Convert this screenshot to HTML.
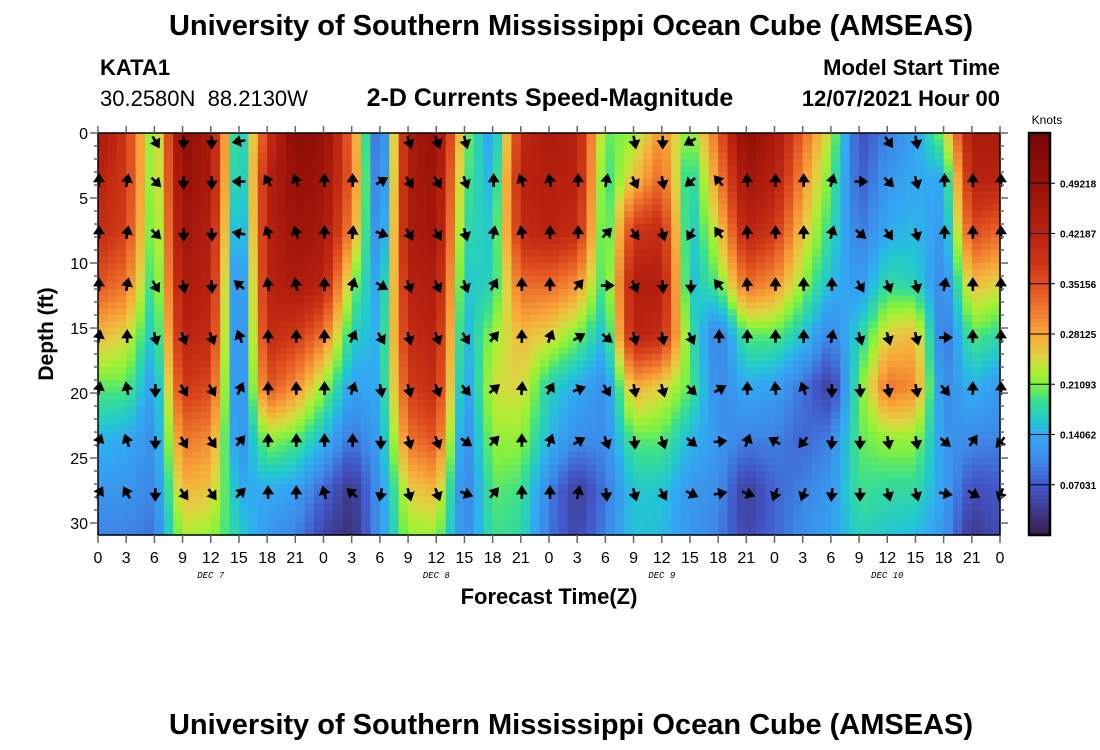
<!DOCTYPE html>
<html><head><meta charset="utf-8">
<style>
html,body{margin:0;padding:0;background:#fff;}
svg{display:block;font-family:"Liberation Sans",Arial,sans-serif;}
</style></head>
<body>
<svg id="chart" width="1100" height="750" viewBox="0 0 1100 750" xmlns="http://www.w3.org/2000/svg">
<text x="571" y="35" text-anchor="middle" font-weight="bold" font-size="29">University of Southern Mississippi Ocean Cube (AMSEAS)</text>
<text x="100" y="75" font-weight="bold" font-size="22">KATA1</text>
<text x="100" y="106" font-size="22">30.2580N&#160; 88.2130W</text>
<text x="550" y="106" text-anchor="middle" font-weight="bold" font-size="25">2-D Currents Speed-Magnitude</text>
<text x="1000" y="75" text-anchor="end" font-weight="bold" font-size="22">Model Start Time</text>
<text x="1000" y="106" text-anchor="end" font-weight="bold" font-size="22">12/07/2021 Hour 00</text>
<g id="cells"></g>
<g id="arrows"></g>
<rect x="98" y="133" width="902" height="402" fill="none" stroke="#000" stroke-width="1.5"/>
<g id="ticks"></g>
<text transform="translate(53,334) rotate(-90)" text-anchor="middle" font-weight="bold" font-size="21">Depth (ft)</text>
<text x="549" y="604" text-anchor="middle" font-weight="bold" font-size="22">Forecast Time(Z)</text>
<g id="colorbar"></g>
<text x="1047" y="124" text-anchor="middle" font-size="12">Knots</text>
<text x="571" y="734" text-anchor="middle" font-weight="bold" font-size="29">University of Southern Mississippi Ocean Cube (AMSEAS)</text>
</svg>
<script>
const hours = [0,3,6,9,12,15,18,21,24,27,30,33,36,39,42,45,48,51,54,57,60,63,66,69,72,75,78,81,84,87,90,93,96];
const depths = [0,3.5,7.5,11.5,15.5,19.5,23.5,27.5,31];
// speed (knots) per hour column, top to bottom depth
const speed = [
[0.45,0.42,0.40,0.35,0.27,0.20,0.15,0.12,0.10],
[0.38,0.38,0.37,0.32,0.25,0.20,0.14,0.12,0.10],
[0.19,0.19,0.18,0.17,0.15,0.12,0.11,0.10,0.09],
[0.52,0.50,0.48,0.45,0.42,0.38,0.32,0.27,0.23],
[0.45,0.45,0.43,0.42,0.40,0.36,0.30,0.26,0.22],
[0.13,0.12,0.10,0.07,0.07,0.08,0.10,0.14,0.17],
[0.38,0.42,0.42,0.42,0.40,0.35,0.22,0.14,0.12],
[0.52,0.50,0.48,0.45,0.38,0.30,0.20,0.13,0.10],
[0.50,0.48,0.46,0.42,0.32,0.22,0.15,0.08,0.05],
[0.32,0.33,0.30,0.22,0.17,0.13,0.09,0.03,0.02],
[0.05,0.06,0.08,0.12,0.14,0.14,0.13,0.12,0.12],
[0.45,0.45,0.45,0.42,0.40,0.37,0.32,0.25,0.22],
[0.50,0.48,0.47,0.44,0.42,0.40,0.35,0.27,0.22],
[0.22,0.20,0.18,0.16,0.14,0.12,0.10,0.09,0.10],
[0.12,0.14,0.16,0.17,0.22,0.24,0.22,0.20,0.19],
[0.40,0.42,0.40,0.33,0.27,0.25,0.22,0.19,0.18],
[0.45,0.43,0.42,0.33,0.25,0.17,0.15,0.10,0.09],
[0.42,0.42,0.40,0.30,0.21,0.14,0.11,0.04,0.05],
[0.20,0.18,0.17,0.18,0.15,0.11,0.11,0.09,0.10],
[0.22,0.26,0.38,0.43,0.42,0.28,0.20,0.16,0.16],
[0.30,0.33,0.40,0.43,0.40,0.25,0.20,0.16,0.15],
[0.20,0.16,0.15,0.15,0.19,0.20,0.15,0.12,0.12],
[0.33,0.30,0.25,0.20,0.09,0.10,0.12,0.11,0.10],
[0.52,0.47,0.42,0.33,0.20,0.14,0.10,0.04,0.05],
[0.45,0.43,0.38,0.30,0.20,0.13,0.10,0.08,0.08],
[0.33,0.30,0.26,0.22,0.16,0.09,0.08,0.10,0.11],
[0.23,0.20,0.18,0.15,0.10,0.04,0.10,0.12,0.13],
[0.06,0.07,0.09,0.12,0.17,0.20,0.20,0.19,0.17],
[0.10,0.12,0.14,0.18,0.25,0.32,0.22,0.18,0.16],
[0.13,0.14,0.15,0.17,0.27,0.30,0.22,0.18,0.15],
[0.22,0.14,0.12,0.10,0.08,0.10,0.12,0.13,0.12],
[0.45,0.42,0.36,0.27,0.20,0.15,0.11,0.06,0.03],
[0.45,0.42,0.33,0.25,0.18,0.12,0.10,0.07,0.06]
];
// arrow direction (deg clockwise from up) per arrow row (depths 0..27.5), per hour column; null = no arrow
const dirD0   = [null,null,150,180,180,260,null,null,null,null,null,160,160,165,null,null,null,null,null,170,180,240,null,null,null,null,null,null,145,170,null,null,null];
const dirD3   = [0,10,135,180,180,270,330,340,0,0,60,150,150,160,0,340,350,0,10,155,170,230,320,355,0,0,15,90,135,165,0,0,0];
const dirD7   = [0,10,135,180,180,280,340,345,0,5,110,150,150,165,10,350,0,0,45,145,165,210,325,355,0,0,15,130,145,165,0,0,0];
const dirD11  = [0,10,150,170,175,310,350,350,0,15,120,160,155,160,30,0,0,40,90,155,175,180,320,355,0,0,0,150,160,165,10,0,0];
const dirD15  = [10,0,165,160,160,340,0,0,0,25,150,165,160,150,40,0,20,60,130,165,170,155,0,0,0,0,10,165,165,165,90,0,0];
const dirD19  = [10,350,180,150,150,25,0,0,0,20,170,165,160,140,50,5,30,70,150,170,165,135,60,0,355,340,180,175,170,170,140,0,0];
const dirD23  = [20,340,180,150,145,40,0,0,0,0,180,165,160,125,45,0,20,60,160,175,160,130,85,20,300,220,185,180,170,170,130,35,220];
const dirD27  = [30,330,180,145,145,45,0,0,345,310,190,165,160,110,40,0,0,10,175,165,150,115,80,110,200,200,185,180,165,165,100,120,200];
const arrowRows = [dirD0,dirD3,dirD7,dirD11,dirD15,dirD19,dirD23,dirD27];
const arrowDepths = [0.4,3.5,7.5,11.5,15.5,19.5,23.5,27.5];
const yTicks = [0,5,10,15,20,25,30];
const xTickLabels = hours.map(h => String(h % 24));
const dayLabels = ["DEC 7","DEC 8","DEC 9","DEC 10"];
const dayHours = [12,36,60,84];
const cbTicks = [0.07031,0.14062,0.21093,0.28125,0.35156,0.42187,0.49218];

const NS = "http://www.w3.org/2000/svg";
const X0 = 98, X1 = 1000, Y0 = 133, Y1 = 535, HMAX = 96, DMAX = 30.92;
const xs = h => X0 + h * (X1 - X0) / HMAX;
const ys = d => Y0 + d * (Y1 - Y0) / DMAX;
const VMAX = 0.5625;
const stops = [[0,"#3a1d4c"],[0.035,"#3e3a8c"],[0.07,"#4257c8"],[0.105,"#3d8ae8"],[0.14,"#32aaf2"],[0.16,"#22c8d0"],[0.19,"#3ce08c"],[0.21,"#7ef044"],[0.23,"#b0ee34"],[0.25,"#e0d242"],[0.28,"#f8aa3a"],[0.31,"#f08030"],[0.35,"#e05020"],[0.38,"#cc3616"],[0.42,"#b82210"],[0.49,"#9a1208"],[0.5625,"#760808"]];
function hex(c){return [1,3,5].map(i=>parseInt(c.substr(i,2),16));}
const stopRGB = stops.map(s=>[s[0],hex(s[1])]);
function cmap(v){
  v = Math.max(0, Math.min(VMAX, v));
  for (let i=1;i<stopRGB.length;i++){
    if (v <= stopRGB[i][0]){
      const a=stopRGB[i-1], b=stopRGB[i];
      const t=(v-a[0])/(b[0]-a[0]);
      const c=a[1].map((x,k)=>Math.round(x+(b[1][k]-x)*t));
      return `rgb(${c[0]},${c[1]},${c[2]})`;
    }
  }
  return stops[stops.length-1][1];
}
function seg(arr, v){
  for (let i=0;i<arr.length-1;i++) if (v<=arr[i+1]) return [i,(v-arr[i])/(arr[i+1]-arr[i])];
  return [arr.length-2,1];
}
function valueAt(h,d){
  const [i,tx]=seg(hours,h), [j,ty]=seg(depths,d);
  const a=speed[i][j], b=speed[i+1][j], c=speed[i][j+1], e=speed[i+1][j+1];
  return (a*(1-tx)+b*tx)*(1-ty)+(c*(1-tx)+e*tx)*ty;
}
const cells = document.getElementById("cells");
for (let h=0; h<HMAX; h++){
  for (let d=0; d<DMAX; d+=0.5){
    const r=document.createElementNS(NS,"rect");
    
    
    const d2=Math.min(d+0.5,DMAX);
    r.setAttribute("x", xs(h)); r.setAttribute("y", ys(d));
    r.setAttribute("width", xs(h+1)-xs(h)+0.6); r.setAttribute("height", ys(d2)-ys(d)+0.6);
    r.setAttribute("fill", cmap(valueAt(h+0.5, Math.min(d+0.25,DMAX))));
    cells.appendChild(r);
  }
}
const arrows = document.getElementById("arrows");
arrowRows.forEach((row, j) => {
  row.forEach((ang, i) => {
    if (ang === null) return;
    const p=document.createElementNS(NS,"path");
    
    
    p.setAttribute("d","M0,5.5 L0,-1 M-3.6,-0.5 L0,-6 L3.6,-0.5 Z");
    p.setAttribute("stroke","#000"); p.setAttribute("stroke-width","2.6"); p.setAttribute("fill","#000");
    p.setAttribute("stroke-linejoin","miter");
    p.setAttribute("transform",`translate(${xs(hours[i])+1},${ys(arrowDepths[j])+3}) rotate(${ang})`);
    arrows.appendChild(p);
  });
});
const ticks = document.getElementById("ticks");
function line(x1,y1,x2,y2,name){
  const l=document.createElementNS(NS,"line");
  
  
  l.setAttribute("x1",x1);l.setAttribute("y1",y1);l.setAttribute("x2",x2);l.setAttribute("y2",y2);
  l.setAttribute("stroke","#666");l.setAttribute("stroke-width","1.5");
  ticks.appendChild(l);
}
function text(x,y,s,anchor,size,name,extra){
  const t=document.createElementNS(NS,"text");
  
  
  t.setAttribute("x",x);t.setAttribute("y",y);t.setAttribute("text-anchor",anchor);t.setAttribute("font-size",size);
  if (extra) for (const k in extra) t.setAttribute(k,extra[k]);
  t.textContent=s; ticks.appendChild(t);
}
for (let d=0; d<=30; d++){
  const L = d%5===0 ? 8 : 4;
  line(X0-L, ys(d), X0, ys(d), "y-tick");
  line(X1, ys(d), X1+L, ys(d), "y-tick-right");
}
yTicks.forEach(d => text(88, ys(d)+6, String(d), "end", 16, "y-tick-label"));
hours.forEach((h,i) => {
  line(xs(h), Y0-7, xs(h), Y0, "x-tick-top");
  line(xs(h), Y1, xs(h), Y1+8, "x-tick");
  text(xs(h), 563, xTickLabels[i], "middle", 16, "x-tick-label");
});
dayLabels.forEach((s,i) => text(xs(dayHours[i]), 578, s, "middle", 9, "day-label", {"font-style":"italic","font-family":"Liberation Mono, monospace"}));
const cb = document.getElementById("colorbar");
const CBX=1029, CBW=21;
for (let k=0;k<100;k++){
  const v0=k*VMAX/100, v1=(k+1)*VMAX/100;
  const r=document.createElementNS(NS,"rect");
  
  
  const yb = Y1 - v1/VMAX*(Y1-Y0);
  r.setAttribute("x",CBX);r.setAttribute("y",yb);r.setAttribute("width",CBW);r.setAttribute("height",(Y1-Y0)/100+0.6);
  r.setAttribute("fill",cmap((v0+v1)/2)); cb.appendChild(r);
}
const frame=document.createElementNS(NS,"rect");


frame.setAttribute("x",CBX);frame.setAttribute("y",Y0);frame.setAttribute("width",CBW);frame.setAttribute("height",Y1-Y0);
frame.setAttribute("fill","none");frame.setAttribute("stroke","#000");frame.setAttribute("stroke-width","2.5");
cb.appendChild(frame);
cbTicks.forEach(v => {
  const y = Y1 - v/VMAX*(Y1-Y0);
  const l=document.createElementNS(NS,"line");
  
  
  l.setAttribute("x1",CBX);l.setAttribute("x2",CBX+CBW+5);l.setAttribute("y1",y);l.setAttribute("y2",y);
  l.setAttribute("stroke","#000");l.setAttribute("stroke-width","1");
  cb.appendChild(l);
  const t=document.createElementNS(NS,"text");
  
  
  t.setAttribute("x",1060);t.setAttribute("y",y+4);t.setAttribute("font-size","10");t.setAttribute("font-weight","bold");
  t.textContent=v.toFixed(5);
  cb.appendChild(t);
});
</script>
</body></html>
